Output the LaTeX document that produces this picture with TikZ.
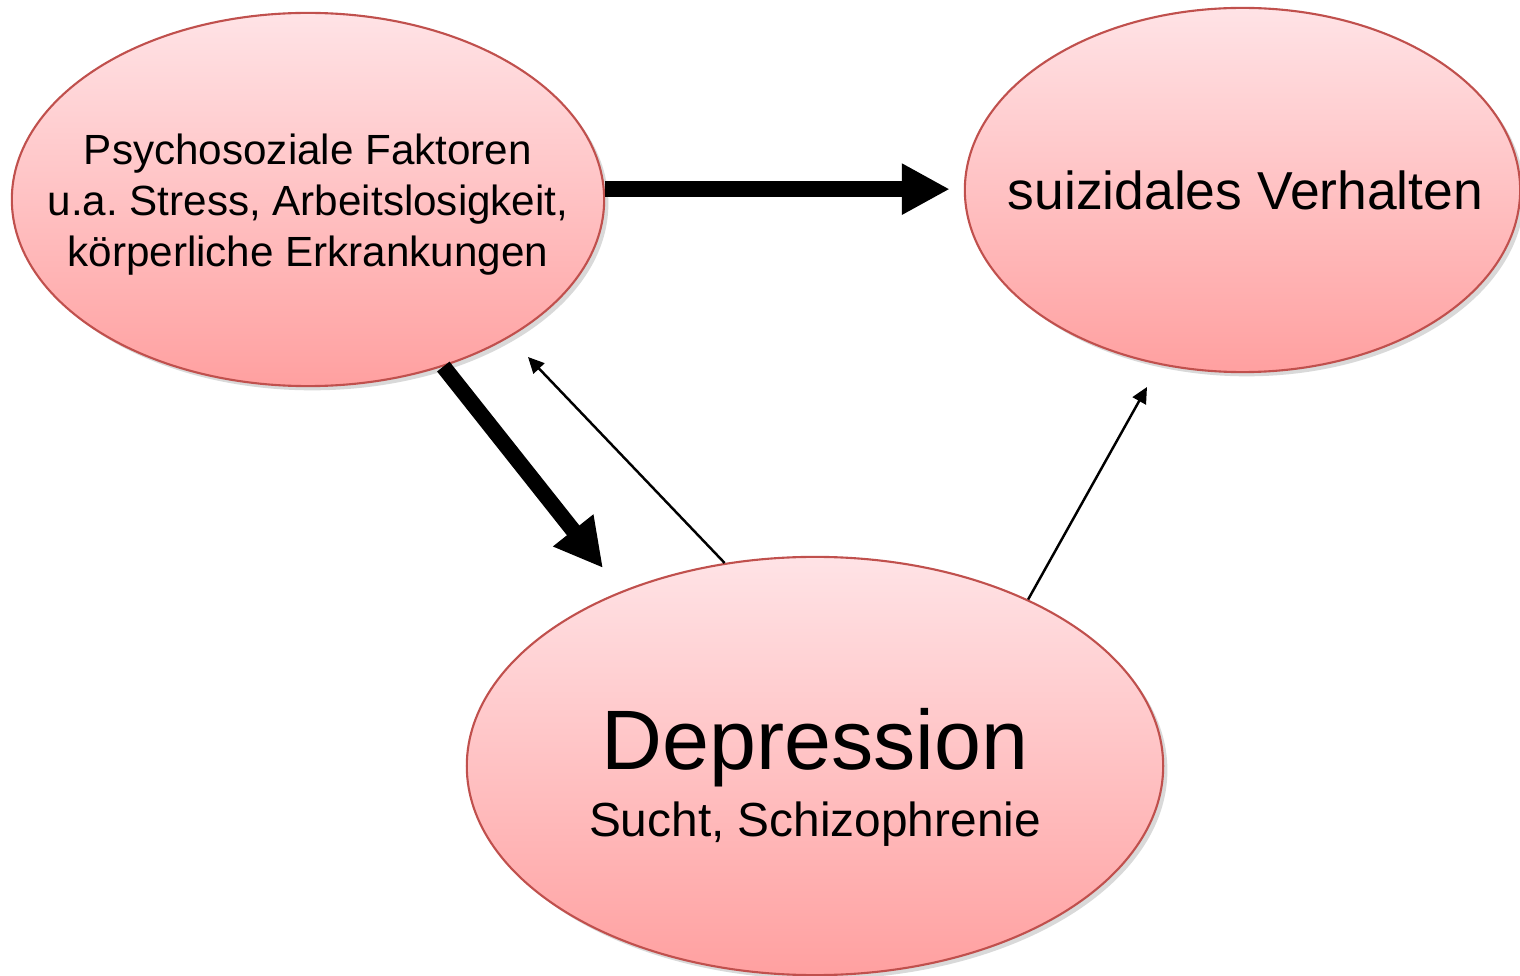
\documentclass[tikz,border=0pt]{standalone}
\usepackage{fontspec}
\setmainfont{Liberation Sans}
\frenchspacing
\usetikzlibrary{arrows.meta, shapes, shadows, calc, positioning}
\definecolor{pinktop}{RGB}{255,227,230}
\definecolor{pinkbot}{RGB}{255,160,160}
\definecolor{rimred}{RGB}{192,80,77}
\tikzset{
    bubble/.style ={ellipse, draw=rimred, line width=0.6pt, top color=pinktop, bottom color=pinkbot, inner sep=0pt,
        drop shadow={shadow xshift=1.2pt, shadow yshift=-1.2pt, opacity=0.25, fill=black!60}}, % the pink ellipses
    txt/.style = {align=center, inner sep=0pt},
    bigarrow/.style = {line width=4.5pt, -{Triangle[length=0.48cm, width=0.48cm]}},
    thinarrow/.style = {line width=0.7pt, -{Triangle[length=0.16cm, width=0.15cm]}}
}

\begin{document}
\begin{tikzpicture}[x=0.01cm, y=-0.01cm] % one unit is one pixel of the layout
    \useasboundingbox (0,0) rectangle (1520,976);
    \node[bubble, minimum width=5.92cm, minimum height=3.73cm] (psy) at (308,199.5) {};
    \node[txt, font=\fontsize{12}{14.4}\selectfont] (psytext) at ($(psy.center)+(0,5)$) {Psychosoziale Faktoren\\u.a. Stress, Arbeitslosigkeit,\\körperliche Erkrankungen};
    \node[bubble, minimum width=5.55cm, minimum height=3.64cm] (verh) at (1242.5,190) {};
    \node[txt, font=\fontsize{15.2}{18}\selectfont] (verhtext) at ($(verh.center)+(3,0)$) {suizidales Verhalten};
    \node[bubble, minimum width=6.96cm, minimum height=4.18cm] (dep) at (815,766) {};
    \node[txt, anchor=base, font=\fontsize{24}{28}\selectfont] (depword) at (815,770) {Depression};
    \node[txt, anchor=base, font=\fontsize{13.6}{16}\selectfont] (depsub) at (815,836) {Sucht, Schizophrenie};
    % free ends of the arrows
    \coordinate (deptip) at (603,568);
    \coordinate (psytip) at (528,357);
    \coordinate (verhtip) at (1147,387);
    \draw[bigarrow, shorten >=0.14cm] (psy.2) -- (psy.2 -| verh.west);
    \draw[bigarrow] (psy.-51.6) -- (deptip);
    \draw[thinarrow] (dep.114.5) -- (psytip);
    \draw[thinarrow] (dep.38.4) -- (verhtip);
\end{tikzpicture}
\end{document}
